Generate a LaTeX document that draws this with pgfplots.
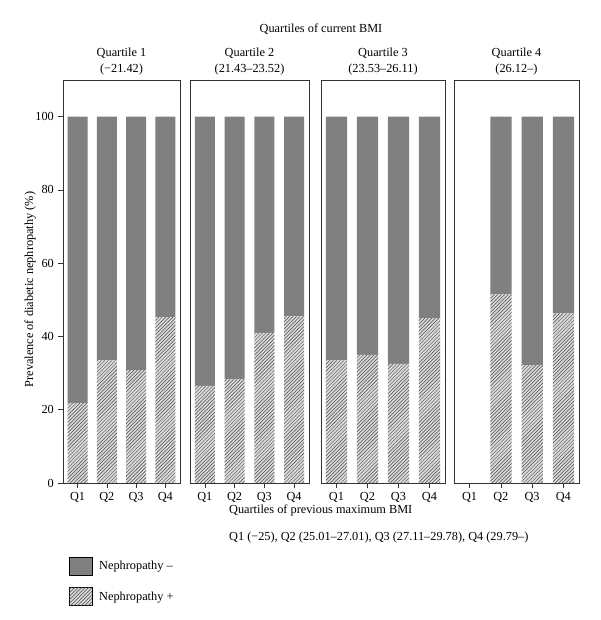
\documentclass[border=0pt]{standalone}
\usepackage{fontspec}
\setmainfont{Liberation Serif}
\usepackage{pgfplots}
\pgfplotsset{compat=1.18}
\usetikzlibrary{patterns}

\definecolor{negcol}{HTML}{808080}
\definecolor{poscol}{HTML}{DADADA}

\pgfplotsset{
  panel/.style={
    scale only axis, height=12.09cm, anchor=south west,
    ymin=0, ymax=110, xmin=-0.5, xmax=3.5, enlargelimits=false,
    ybar stacked, bar width=0.68,
    xtick={0,1,2,3}, xticklabels={Q1,Q2,Q3,Q4},
    xtick pos=bottom, ytick pos=left, tick align=outside,
    major tick length=0.15cm,
    axis line style={black!80, line width=0.7pt},
    tick style={black!80, line width=0.6pt},
    font=\fontsize{10.5}{13}\selectfont,
    title style={align=center, font=\fontsize{10.5}{13}\selectfont, yshift=-5pt},
    /pgf/number format/assume math mode=true,
  },
  neg/.style={fill=negcol, draw=none},
  pos/.style={fill=poscol, draw=none,
    postaction={pattern=north east lines, pattern color=black!70}},
}

\begin{document}
\begin{tikzpicture}
\useasboundingbox (0,0) rectangle (18cm,18.6cm);

% panel 1
\begin{axis}[panel, at={(1.89cm,4.11cm)}, width=3.51cm,
    ytick={0,20,40,60,80,100},
    title={Quartile 1\\(\char"2212 21.42)},
    ylabel={Prevalence of diabetic nephropathy (\%)},
    ylabel style={at={(axis description cs:-0.28,0.48)}, anchor=center},
    reverse legend,
    legend style={draw=none, fill=none, at={(axis description cs:0.017,-0.178)},
      anchor=north west, row sep=10pt, column sep=4pt, legend cell align=left,
      font=\fontsize{10.5}{13}\selectfont},
    legend image code/.code={\draw[#1] (0cm,-0.27cm) rectangle (0.69cm,0.27cm);},
]
\addplot[pos] coordinates {(0,21.8) (1,33.5) (2,30.8) (3,45.3)};
\addplot[neg] coordinates {(0,78.2) (1,66.5) (2,69.2) (3,54.7)};
\legend{Nephropathy +, Nephropathy –}
\end{axis}

% panel 2
\begin{axis}[panel, at={(5.70cm,4.11cm)}, width=3.57cm, ytick=\empty,
    title={Quartile 2\\(21.43–23.52)}]
\addplot[pos] coordinates {(0,26.5) (1,28.3) (2,41.0) (3,45.5)};
\addplot[neg] coordinates {(0,73.5) (1,71.7) (2,59.0) (3,54.5)};
\end{axis}

% panel 3
\begin{axis}[panel, at={(9.63cm,4.11cm)}, width=3.72cm, ytick=\empty,
    title={Quartile 3\\(23.53–26.11)}]
\addplot[pos] coordinates {(0,33.5) (1,35.0) (2,32.5) (3,45.0)};
\addplot[neg] coordinates {(0,66.5) (1,65.0) (2,67.5) (3,55.0)};
\end{axis}

% panel 4 (no subjects in Q1)
\begin{axis}[panel, at={(13.62cm,4.11cm)}, width=3.75cm, ytick=\empty,
    title={Quartile 4\\(26.12–)}]
\addplot[pos] coordinates {(1,51.5) (2,32.2) (3,46.3)};
\addplot[neg] coordinates {(1,48.5) (2,67.8) (3,53.7)};
\end{axis}

\node[font=\fontsize{10.5}{13}\selectfont] at (9.63cm,17.73cm) {Quartiles of current BMI};
\node[anchor=west, font=\fontsize{10.5}{13}\selectfont] at (6.75cm,3.30cm)
  {Quartiles of previous maximum BMI};
\node[anchor=west, font=\fontsize{10.5}{13}\selectfont] at (6.75cm,2.46cm)
  {Q1 (\char"2212 25), Q2 (25.01–27.01), Q3 (27.11–29.78), Q4 (29.79–)};
\end{tikzpicture}
\end{document}
